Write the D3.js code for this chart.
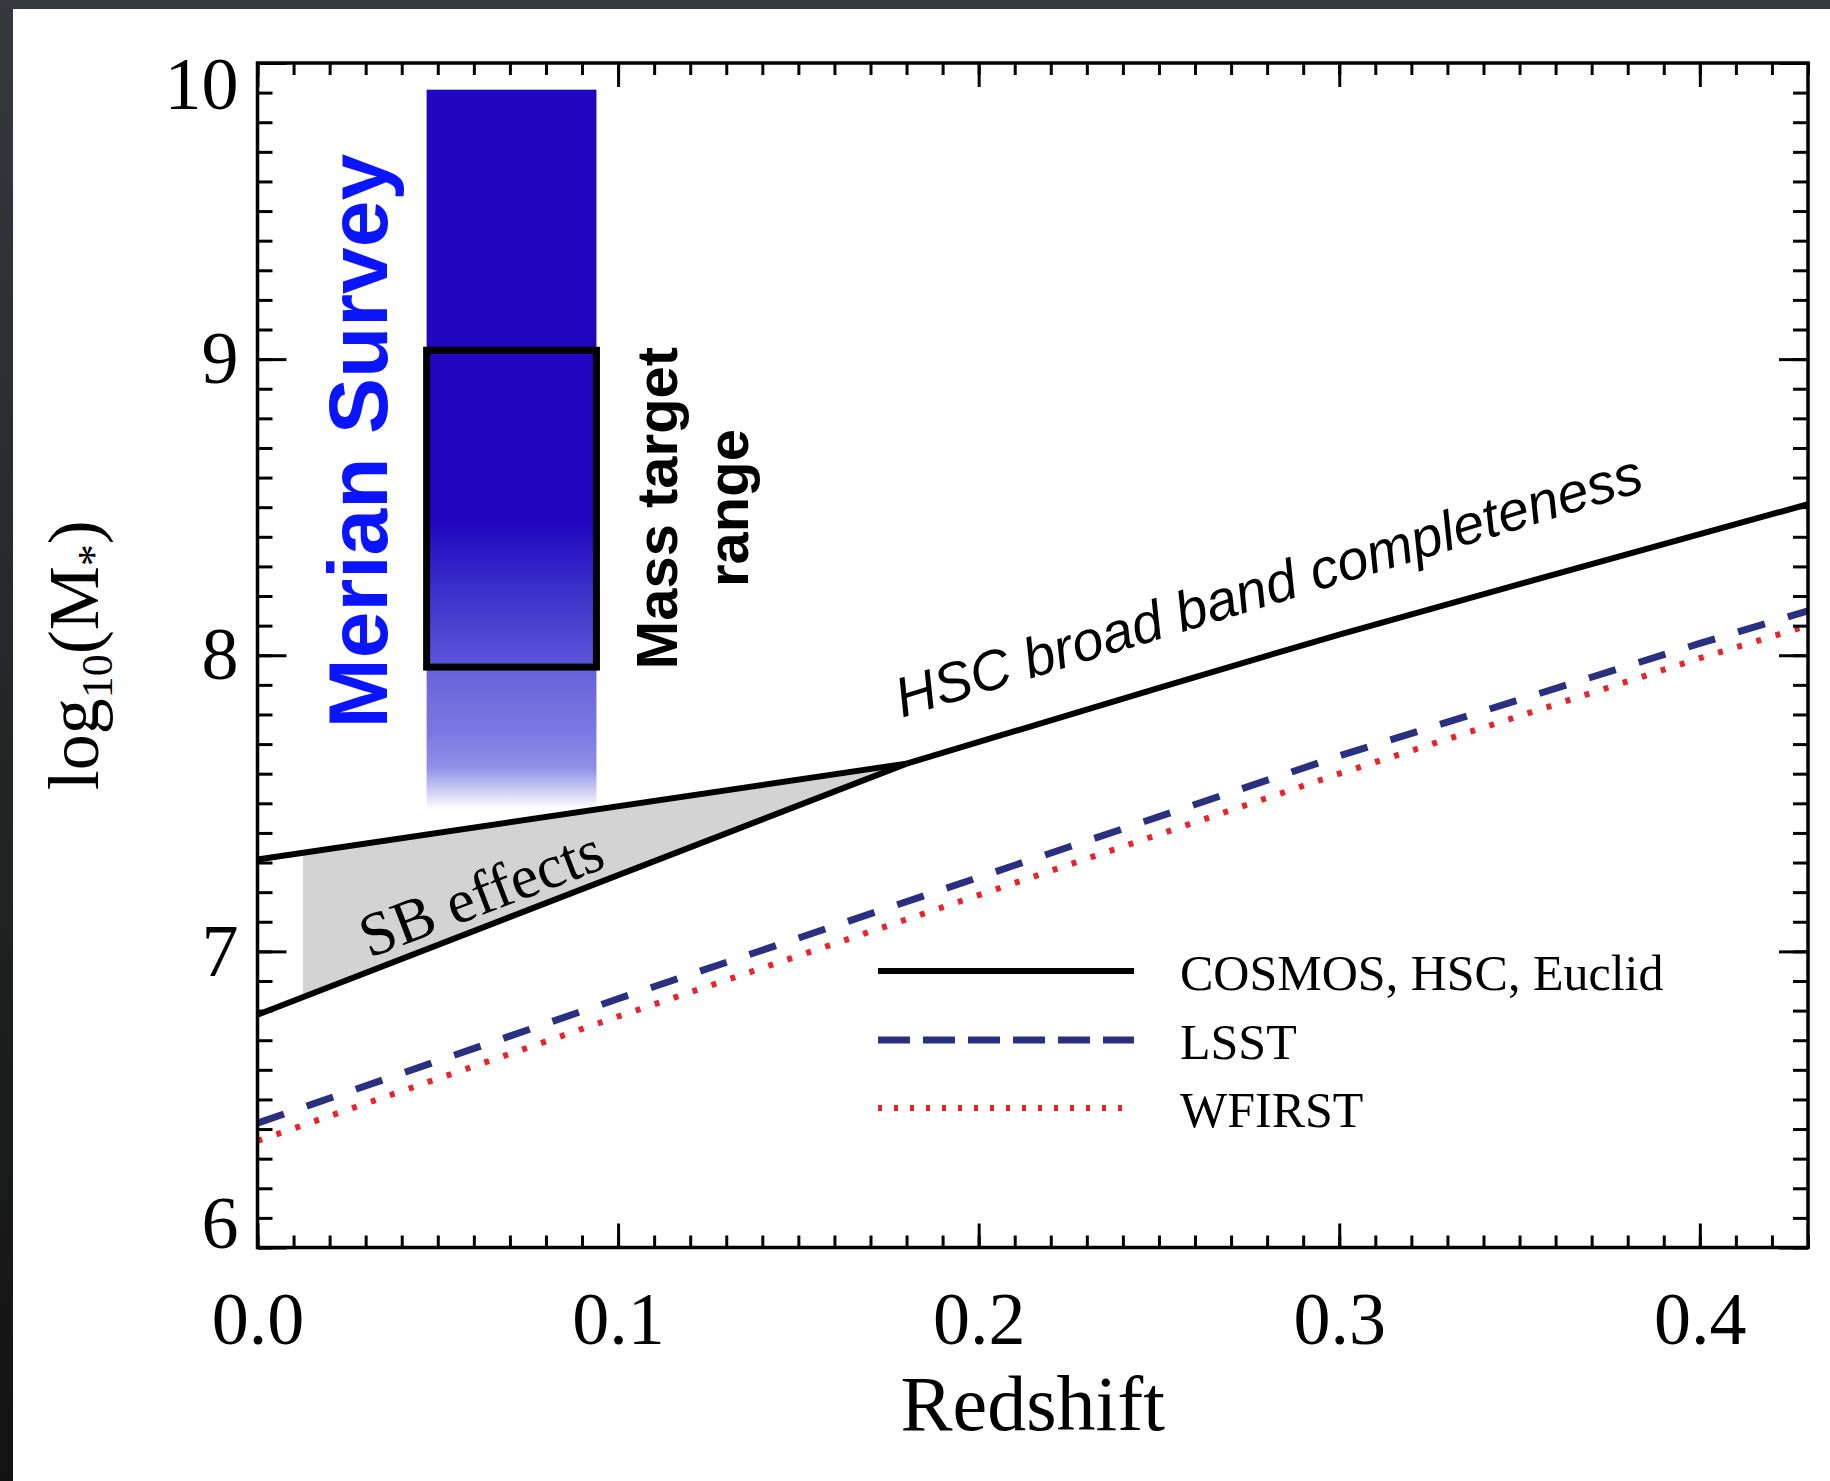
<!doctype html>
<html lang="en">

<head>
  <meta charset="utf-8">
  <style>
    body { margin: 0; background: #ffffff; }
    svg { display: block; }
  </style>
</head>

<body>
  <script src="https://d3js.org/d3.v7.min.js"></script>
  <div id="chart"></div>
  <script>
    // ---- data ----
    var xTicksMajor = [0.0, 0.1, 0.2, 0.3, 0.4];
    var yTicksMajor = [6, 7, 8, 9, 10];

    // surface-brightness wedge (upper and lower edges)
    var sbZ = [0, 0.18];
    var sbUpper = [7.31, 7.634];
    var sbLower = [6.786, 7.634];
    var sbFillStart = 0.0126;

    // HSC broad band completeness, beyond the wedge
    var hscZ = [0.18, 0.25, 0.30, 0.35, 0.43];
    var hscMass = [7.634, 7.89, 8.07, 8.24, 8.51];

    // LSST and WFIRST limits
    var surveyZ = [0, 0.1, 0.2, 0.3, 0.4, 0.43];
    var lsstMass = [6.42, 6.84, 7.25, 7.66, 8.04, 8.15];
    var wfirstMass = [6.36, 6.78, 7.19, 7.60, 7.99, 8.10];

    // Merian survey bar and mass target box
    var merianZ = [0.0469, 0.094];
    var merianMass = [7.48, 9.91];
    var merianSolidTo = 8.45;
    var targetMass = [7.96, 9.03];

    var legendNames = ["COSMOS, HSC, Euclid", "LSST", "WFIRST"];

    (function () {
      // ---- layout ----
      var width = 1830, height = 1481;
      var serif = "'Liberation Serif', 'Times New Roman', Times, serif";
      var sans = "'Liberation Sans', Arial, Helvetica, sans-serif";

      var x = d3.scaleLinear().domain([0, 0.43]).range([257.5, 1808]);
      var y = d3.scaleLinear().domain([6, 10]).range([1247.5, 63]);

      var svg = d3.select("#chart").append("svg")
        .attr("width", width)
        .attr("height", height);

      var defs = svg.append("defs");

      // dark screenshot border
      var side = defs.append("linearGradient").attr("id", "side")
        .attr("x1", 0).attr("y1", 0).attr("x2", 0).attr("y2", 1);
      side.append("stop").attr("offset", 0).attr("stop-color", "#35383d");
      side.append("stop").attr("offset", 1).attr("stop-color", "#121212");

      svg.append("rect").attr("width", width).attr("height", height).attr("fill", "#ffffff");
      svg.append("rect").attr("width", width).attr("height", 9).attr("fill", "#35383d");
      svg.append("rect").attr("width", 13).attr("height", height).attr("fill", "url(#side)");

      // gradient for the Merian bar, fading below the solid part
      var fade = defs.append("linearGradient").attr("id", "fade")
        .attr("gradientUnits", "userSpaceOnUse")
        .attr("x1", 0).attr("x2", 0)
        .attr("y1", y(merianSolidTo)).attr("y2", y(merianMass[0]));
      [[0, "#2006c0"], [0.268, "#3f36cd"], [0.495, "#5a55d9"], [0.526, "#6864dc"],
       [0.732, "#7a78e2"], [0.856, "#9090e8"], [0.928, "#c8c8f2"], [1, "#ffffff"]]
        .forEach(function (s) {
          fade.append("stop").attr("offset", s[0]).attr("stop-color", s[1]);
        });

      var plot = svg.append("g");

      // SB effects wedge fill
      var lerp = function (zs, ms, z) {
        return ms[0] + (ms[1] - ms[0]) * (z - zs[0]) / (zs[1] - zs[0]);
      };
      plot.append("path")
        .datum([sbFillStart, sbZ[1]])
        .attr("d", d3.area()
          .x(function (d) { return x(d); })
          .y0(function (d) { return y(lerp(sbZ, sbLower, d)); })
          .y1(function (d) { return y(lerp(sbZ, sbUpper, d)); }))
        .attr("fill", "#d3d3d3");

      // Merian bar (solid top, gradient bottom)
      var barX = x(merianZ[0]), barW = x(merianZ[1]) - x(merianZ[0]);
      plot.append("rect")
        .attr("x", barX).attr("width", barW)
        .attr("y", y(merianMass[1]))
        .attr("height", y(merianSolidTo) - y(merianMass[1]) + 1)
        .attr("fill", "#2006c0");
      plot.append("rect")
        .attr("x", barX).attr("width", barW)
        .attr("y", y(merianSolidTo))
        .attr("height", y(merianMass[0]) - y(merianSolidTo))
        .attr("fill", "url(#fade)");

      // mass target box
      plot.append("rect")
        .attr("x", barX).attr("width", barW)
        .attr("y", y(targetMass[1]))
        .attr("height", y(targetMass[0]) - y(targetMass[1]))
        .attr("fill", "none")
        .attr("stroke", "#000")
        .attr("stroke-width", 7);

      var line = d3.line()
        .x(function (d) { return x(d[0]); })
        .y(function (d) { return y(d[1]); });

      var zip = function (a, b) { return a.map(function (v, i) { return [v, b[i]]; }); };

      // survey limits
      plot.append("path").datum(zip(surveyZ, wfirstMass)).attr("d", line)
        .attr("fill", "none").attr("stroke", "#e8232a").attr("stroke-width", 6)
        .attr("stroke-dasharray", "5,15");
      plot.append("path").datum(zip(surveyZ, lsstMass)).attr("d", line)
        .attr("fill", "none").attr("stroke", "#2b2f7f").attr("stroke-width", 7)
        .attr("stroke-dasharray", "28,24");

      // SB wedge edges and HSC line
      [zip(sbZ, sbUpper), zip(sbZ, sbLower), zip(hscZ, hscMass)].forEach(function (pts) {
        plot.append("path").datum(pts).attr("d", line)
          .attr("fill", "none").attr("stroke", "#000").attr("stroke-width", 6)
          .attr("stroke-linejoin", "round");
      });

      // ---- axes: inward ticks on all four sides ----
      var minorX = d3.range(0, 44).map(function (i) { return i / 100; });
      var minorY = d3.range(60, 101).map(function (i) { return i / 10; });

      var styleAxis = function (g) {
        g.select(".domain").remove();
        g.selectAll(".tick line").attr("stroke", "#000").attr("stroke-width", 3);
        g.selectAll(".tick text").attr("fill", "#000");
      };

      var yBottom = y.range()[0], yTop = y.range()[1];
      var xLeft = x.range()[0], xRight = x.range()[1];

      svg.append("g").attr("transform", "translate(0," + yBottom + ")")
        .call(d3.axisBottom(x).tickValues(minorX).tickSize(-12).tickFormat(""))
        .call(styleAxis);
      svg.append("g").attr("transform", "translate(0," + yBottom + ")")
        .call(d3.axisBottom(x).tickValues(xTicksMajor).tickSizeInner(-24).tickSizeOuter(0)
          .tickPadding(44).tickFormat(d3.format(".1f")))
        .call(styleAxis)
        .selectAll("text")
        .style("font-family", serif).style("font-size", "74px");

      svg.append("g").attr("transform", "translate(0," + yTop + ")")
        .call(d3.axisTop(x).tickValues(minorX).tickSize(-12).tickFormat(""))
        .call(styleAxis);
      svg.append("g").attr("transform", "translate(0," + yTop + ")")
        .call(d3.axisTop(x).tickValues(xTicksMajor).tickSize(-24).tickFormat(""))
        .call(styleAxis);

      svg.append("g").attr("transform", "translate(" + xLeft + ",0)")
        .call(d3.axisLeft(y).tickValues(minorY).tickSize(-15).tickFormat(""))
        .call(styleAxis);
      var yAxis = svg.append("g").attr("transform", "translate(" + xLeft + ",0)")
        .call(d3.axisLeft(y).tickValues(yTicksMajor).tickSizeInner(-29).tickSizeOuter(0)
          .tickPadding(19).tickFormat(d3.format("d")))
        .call(styleAxis);
      yAxis.selectAll("text")
        .style("font-family", serif).style("font-size", "74px")
        .attr("transform", function (d) {
          // end labels pulled inside the frame, as in the original
          if (d === 10) return "translate(0,22)";
          if (d === 6) return "translate(0,-24)";
          return null;
        });

      svg.append("g").attr("transform", "translate(" + xRight + ",0)")
        .call(d3.axisRight(y).tickValues(minorY).tickSize(-15).tickFormat(""))
        .call(styleAxis);
      svg.append("g").attr("transform", "translate(" + xRight + ",0)")
        .call(d3.axisRight(y).tickValues(yTicksMajor).tickSize(-29).tickFormat(""))
        .call(styleAxis);

      // frame
      svg.append("rect")
        .attr("x", xLeft).attr("y", yTop)
        .attr("width", xRight - xLeft).attr("height", yBottom - yTop)
        .attr("fill", "none").attr("stroke", "#000").attr("stroke-width", 3.5);

      // ---- axis titles ----
      svg.append("text")
        .attr("x", (xLeft + xRight) / 2).attr("y", 1430)
        .attr("text-anchor", "middle")
        .style("font-family", serif).style("font-size", "78px")
        .text("Redshift");

      var ylab = svg.append("text")
        .attr("transform", "translate(98," + ((yTop + yBottom) / 2) + ") rotate(-90)")
        .attr("text-anchor", "middle")
        .style("font-family", serif).style("font-size", "72px");
      ylab.append("tspan").text("log");
      ylab.append("tspan").attr("dy", 14).style("font-size", "44px").text("10");
      ylab.append("tspan").attr("dy", -14).text("(M");
      ylab.append("tspan").attr("dy", 10).style("font-size", "44px").text("*");
      ylab.append("tspan").attr("dy", -10).text(")");

      // ---- annotations ----
      svg.append("text")
        .attr("transform", "translate(387,441) rotate(-90)")
        .attr("text-anchor", "middle")
        .style("font-family", sans).style("font-size", "84px").style("font-weight", "bold")
        .attr("fill", "#0a14ff")
        .text("Merian Survey");

      svg.append("text")
        .attr("transform", "translate(677,508) rotate(-90)")
        .attr("text-anchor", "middle")
        .style("font-family", sans).style("font-size", "58px").style("font-weight", "bold")
        .text("Mass target");
      svg.append("text")
        .attr("transform", "translate(748,508) rotate(-90)")
        .attr("text-anchor", "middle")
        .style("font-family", sans).style("font-size", "58px").style("font-weight", "bold")
        .text("range");

      svg.append("text")
        .attr("transform", "translate(481,893) rotate(-21)")
        .attr("text-anchor", "middle").attr("dominant-baseline", "central")
        .style("font-family", serif).style("font-size", "62px")
        .text("SB effects");

      svg.append("text")
        .attr("transform", "translate(1274,604) rotate(-17)")
        .attr("text-anchor", "middle")
        .style("font-family", sans).style("font-size", "56px").style("font-style", "italic")
        .text("HSC broad band completeness");

      // ---- legend ----
      var legendStyles = [
        { stroke: "#000", width: 6, dash: null, y: 971 },
        { stroke: "#2b2f7f", width: 7, dash: "32,13", y: 1040 },
        { stroke: "#e8232a", width: 6, dash: "4,12", y: 1108 }
      ];
      legendNames.forEach(function (name, i) {
        var s = legendStyles[i];
        svg.append("line")
          .attr("x1", 878).attr("x2", 1134)
          .attr("y1", s.y).attr("y2", s.y)
          .attr("stroke", s.stroke).attr("stroke-width", s.width)
          .attr("stroke-dasharray", s.dash);
        svg.append("text")
          .attr("x", 1180).attr("y", s.y + 19)
          .style("font-family", serif).style("font-size", "50px")
          .text(name);
      });
    })();
  </script>
</body>

</html>
